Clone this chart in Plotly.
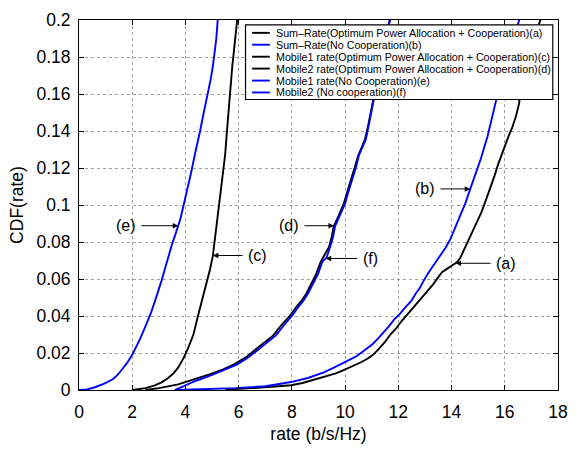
import numpy as np
import plotly.graph_objects as go

# ---------------- data ----------------
# (a) Sum-Rate, Optimum Power Allocation + Cooperation
a_x = [5.5, 5.87, 7.0, 7.97, 8.4, 8.7, 9.0, 9.32, 9.65, 9.9, 10.19, 10.6, 10.85, 11.05, 11.25, 11.5, 11.7,
       11.9, 12.11, 12.35, 12.6, 12.85, 13.09, 13.3, 13.5, 13.65, 13.8, 13.96, 14.2, 14.33, 14.45, 14.58,
       14.7, 14.85, 15.0, 15.12, 15.25, 15.38, 15.5, 15.62, 15.75, 15.9, 16.11, 16.28, 16.42, 16.54,
       16.6, 16.7, 16.85, 17.04, 17.2, 17.34, 17.4]
a_y = [0, 0.0005, 0.0015, 0.0026, 0.0038, 0.005, 0.0063, 0.0078, 0.009, 0.0105, 0.0122, 0.015, 0.017,
       0.019, 0.022, 0.026, 0.030, 0.033, 0.037, 0.041, 0.045, 0.049, 0.053, 0.057, 0.061, 0.0638, 0.0652,
       0.0666, 0.0690, 0.0715, 0.0752, 0.079, 0.0835, 0.088, 0.092, 0.096, 0.101, 0.106, 0.111, 0.116,
       0.122, 0.128, 0.136, 0.142, 0.148, 0.155, 0.163, 0.168, 0.176, 0.188, 0.194, 0.2, 0.205]
# (b) Sum-Rate, No Cooperation
b_x = [3.6, 5.87, 7.0, 7.97, 8.6, 9.2, 9.6, 9.94, 10.4, 10.68, 11.05, 11.25, 11.45, 11.65, 11.86, 12.05,
       12.25, 12.48, 12.65, 12.8, 12.95, 13.1, 13.35, 13.59, 13.78, 13.96, 14.15, 14.33, 14.52, 14.7,
       14.92, 15.1, 15.35, 15.56, 15.75, 15.93, 16.1, 16.25, 16.4, 16.54, 16.6]
b_y = [0, 0.001, 0.002, 0.0043, 0.0065, 0.0095, 0.0122, 0.0148, 0.018, 0.0209, 0.025, 0.028, 0.031,
       0.0345, 0.0384, 0.041, 0.0445, 0.048, 0.052, 0.055, 0.059, 0.0627, 0.068, 0.073, 0.077, 0.0817,
       0.088, 0.094, 0.101, 0.1086, 0.117, 0.125, 0.137, 0.15, 0.161, 0.170, 0.178, 0.186, 0.193, 0.2,
       0.205]
# (c) Mobile1 rate, Optimum Power Allocation + Cooperation
c_x = [2.0, 2.5, 2.85, 3.12, 3.35, 3.55, 3.73, 3.92, 4.1, 4.3, 4.47, 4.58, 4.68, 4.78, 4.92, 5.03, 5.14,
       5.27, 5.34, 5.42, 5.49, 5.56, 5.63, 5.7, 5.76, 5.82, 5.88, 5.95, 5.98]
c_y = [0, 0.001, 0.0025, 0.0043, 0.0065, 0.009, 0.0122, 0.017, 0.0226, 0.030, 0.040, 0.046, 0.052, 0.0574,
       0.065, 0.0725, 0.086, 0.1008, 0.109, 0.118, 0.127, 0.140, 0.153, 0.165, 0.175, 0.183, 0.192, 0.2,
       0.205]
# (d) Mobile2 rate, Optimum Power Allocation + Cooperation
d_x = [2.5, 3.0, 3.73, 4.3, 4.96, 5.4, 5.83, 6.3, 6.69, 7.0, 7.3, 7.6, 7.92, 8.17, 8.35, 8.54, 8.7, 8.91,
       9.09, 9.28, 9.4, 9.5, 9.58, 9.75, 9.95, 10.08, 10.2, 10.35, 10.5, 10.62, 10.75, 10.88, 11.0, 11.12,
       11.25, 11.37, 11.49, 11.6, 11.68, 11.72]
d_y = [0, 0.001, 0.003, 0.0055, 0.0087, 0.011, 0.0139, 0.018, 0.0226, 0.026, 0.0295, 0.035, 0.040, 0.045,
       0.048, 0.052, 0.057, 0.0626, 0.0695, 0.0748, 0.0775, 0.083, 0.0888, 0.094, 0.1008, 0.107, 0.113,
       0.120, 0.127, 0.131, 0.1356, 0.144, 0.153, 0.161, 0.170, 0.179, 0.188, 0.195, 0.2, 0.205]
# (e) Mobile1 rate, No Cooperation
e_x = [0.0, 0.3, 0.6, 0.95, 1.27, 1.45, 1.6, 1.8, 2.0, 2.15, 2.3, 2.5, 2.7, 2.87, 3.0, 3.1, 3.2, 3.3,
       3.4, 3.5, 3.62, 3.73, 3.82, 3.9, 4.0, 4.1, 4.22, 4.35, 4.45, 4.55, 4.66, 4.78, 4.87, 4.95, 5.03,
       5.1, 5.16, 5.21, 5.26]
e_y = [0, 0.0003, 0.0015, 0.0035, 0.0058, 0.0082, 0.0108, 0.0145, 0.019, 0.023, 0.0278, 0.0345, 0.0415,
       0.0487, 0.054, 0.059, 0.064, 0.0695, 0.074, 0.079, 0.084, 0.0888, 0.093, 0.098, 0.104, 0.110, 0.118,
       0.127, 0.133, 0.140, 0.148, 0.156, 0.162, 0.168, 0.175, 0.182, 0.19, 0.1995, 0.205]
# (f) Mobile2, No cooperation
f_x = [3.6, 3.9, 4.4, 5.05, 5.5, 5.95, 6.4, 6.8, 7.1, 7.4, 7.7, 8.0, 8.25, 8.42, 8.6, 8.78, 8.98, 9.15,
       9.3, 9.45, 9.55, 9.62, 9.8, 10.0, 10.12, 10.25, 10.4, 10.52, 10.65, 10.78, 10.9, 11.02, 11.15,
       11.27, 11.38, 11.5, 11.6, 11.68, 11.72]
f_y = [0, 0.002, 0.005, 0.0085, 0.011, 0.0139, 0.018, 0.0226, 0.026, 0.0295, 0.035, 0.040, 0.045, 0.048,
       0.052, 0.057, 0.0626, 0.0695, 0.0715, 0.078, 0.083, 0.0885, 0.094, 0.1008, 0.107, 0.113, 0.120,
       0.127, 0.131, 0.1356, 0.144, 0.153, 0.161, 0.170, 0.179, 0.188, 0.195, 0.2, 0.205]

names = [
    "Sum\u2013Rate(Optimum Power Allocation + Cooperation)(a)",
    "Sum\u2013Rate(No Cooperation)(b)",
    "Mobile1 rate(Optimum Power Allocation + Cooperation)(c)",
    "Mobile2 rate(Optimum Power Allocation + Cooperation)(d)",
    "Mobile1 rate(No Cooperation)(e)",
    "Mobile2 (No cooperation)(f)",
]
x_ticks = [0, 2, 4, 6, 8, 10, 12, 14, 16, 18]
y_ticks = [0, 0.02, 0.04, 0.06, 0.08, 0.1, 0.12, 0.14, 0.16, 0.18, 0.2]
y_tick_text = ["0", "0.02", "0.04", "0.06", "0.08", "0.1", "0.12", "0.14", "0.16", "0.18", "0.2"]

# callout labels: (label, series index, y level of the arrow tip, x of label centre)
callouts = [("(e)", 4, 0.0888, 1.76), ("(c)", 2, 0.0727, 6.71), ("(d)", 3, 0.0888, 7.89),
            ("(f)", 5, 0.0711, 10.94), ("(b)", 1, 0.1087, 13.0), ("(a)", 0, 0.0685, 16.05)]

# ---------------- figure ----------------
W, H = 578, 450
ML, MR, MT, MB = 79, 12, 10, 57
PW, PH = W - ML - MR, H - MT - MB
FONT = "Liberation Sans, Arial, Helvetica, sans-serif"
BLUE, BLACK = "#0000FF", "#000000"

series = [(a_x, a_y, BLACK), (b_x, b_y, BLUE), (c_x, c_y, BLACK),
          (d_x, d_y, BLACK), (e_x, e_y, BLUE), (f_x, f_y, BLUE)]

fig = go.Figure()
for i in range(6):
    xs, ys, col = series[i]
    fig.add_trace(go.Scatter(x=xs, y=ys, mode="lines", name=names[i], showlegend=False,
                             line=dict(color=col, width=1.9)))


def px2paper(px, py):
    return (px - ML) / PW, (H - MB - py) / PH


shapes = []
annotations = []

# custom legend (compact, like the MATLAB legend)
bx0, by1 = px2paper(248.3, 15)
bx1, by0 = px2paper(560.7, 92.3)
shapes.append(dict(type="rect", xref="paper", yref="paper", x0=bx0, x1=bx1, y0=by0, y1=by1,
                   line=dict(color="black", width=1.2), fillcolor="white", layer="above"))
row_py = [23.3, 35.6, 48.0, 60.3, 72.7, 85.0]
for i, py in enumerate(row_py):
    lx0, ly = px2paper(255, py)
    lx1, _ = px2paper(273, py)
    shapes.append(dict(type="line", xref="paper", yref="paper", x0=lx0, x1=lx1, y0=ly, y1=ly,
                       line=dict(color=series[i][2], width=1.9), layer="above"))
    tx, _ = px2paper(278, py)
    annotations.append(dict(x=tx, y=ly, xref="paper", yref="paper", text=names[i], showarrow=False,
                            xanchor="left", yanchor="middle", borderpad=0,
                            font=dict(family=FONT, size=10.7, color="black")))

# callouts with arrows
for lab, si, yl, tx in callouts:
    xs, ys, _ = series[si]
    tip = float(np.interp(yl, ys, xs))
    annotations.append(dict(x=tip, y=yl, xref="x", yref="y", ax=tx, ay=yl, axref="x", ayref="y",
                            text=lab, showarrow=True, arrowhead=2, arrowsize=1.1, arrowwidth=1,
                            arrowcolor="black", standoff=0, startstandoff=4,
                            font=dict(family=FONT, size=16, color="black")))

fig.update_layout(
    width=W, height=H,
    margin=dict(l=ML, r=MR, t=MT, b=MB, pad=0),
    paper_bgcolor="white", plot_bgcolor="white",
    font=dict(family=FONT, size=17, color="black"),
    shapes=shapes, annotations=annotations,
    showlegend=False,
)
fig.update_xaxes(range=[0, 18], tickvals=x_ticks, ticktext=[str(v) for v in x_ticks],
                 showline=True, linecolor="black", linewidth=1, mirror="allticks",
                 ticks="inside", ticklen=5, tickcolor="black",
                 showgrid=True, gridcolor="#a0a0a0", griddash="dot", gridwidth=1, zeroline=False,
                 tickfont=dict(family=FONT, size=17.5), ticklabelstandoff=6,
                 title=dict(text="rate (b/s/Hz)", font=dict(family=FONT, size=17.5), standoff=6))
fig.update_yaxes(range=[0, 0.2], tickvals=y_ticks, ticktext=y_tick_text,
                 showline=True, linecolor="black", linewidth=1, mirror="allticks",
                 ticks="inside", ticklen=5, tickcolor="black",
                 showgrid=True, gridcolor="#a0a0a0", griddash="dot", gridwidth=1, zeroline=False,
                 tickfont=dict(family=FONT, size=17.5), ticklabelstandoff=4,
                 title=dict(text="CDF(rate)", font=dict(family=FONT, size=17.5), standoff=8))

fig.write_html("out.html")
